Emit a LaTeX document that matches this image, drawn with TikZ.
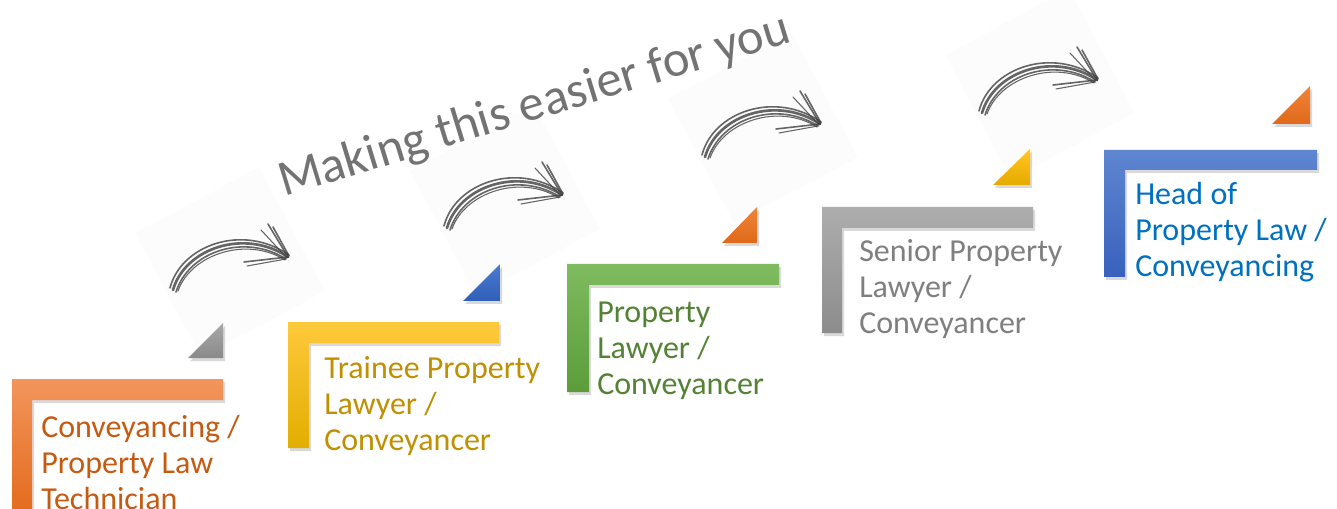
\documentclass[tikz,border=0pt]{standalone}
\usepackage{fontspec}
\setmainfont{Carlito}
\begin{document}
\begin{tikzpicture}[x=0.75pt,y=-0.75pt]
\definecolor{oA}{HTML}{F2955C}\definecolor{oB}{HTML}{E36A1C}
\definecolor{yA}{HTML}{FFC93C}\definecolor{yB}{HTML}{E2AE00}
\definecolor{gA}{HTML}{7EBC5F}\definecolor{gB}{HTML}{5C9C3A}
\definecolor{rA}{HTML}{ADADAD}\definecolor{rB}{HTML}{8C8C8C}
\definecolor{bA}{HTML}{5F86D0}\definecolor{bB}{HTML}{3861BD}
\definecolor{tO}{HTML}{C55A11}\definecolor{tY}{HTML}{BF9000}
\definecolor{tG}{HTML}{548235}\definecolor{tR}{HTML}{7F7F7F}
\definecolor{tB}{HTML}{0070C0}
\definecolor{triO}{HTML}{F0843A}\definecolor{triOd}{HTML}{E0691A}
\definecolor{triY}{HTML}{FFC820}\definecolor{triYd}{HTML}{E6AA00}
\definecolor{triB}{HTML}{4A7BD0}\definecolor{triBd}{HTML}{2F5FB6}
\definecolor{triR}{HTML}{A8A8A8}\definecolor{triRd}{HTML}{8A8A8A}
\tikzset{
  barshadow/.style={fill=black, opacity=0.15},
  lbl/.style={anchor=base west, inner sep=0, align=left, font=\fontsize{24}{27}\selectfont},
  sk/.style={draw=black!75, line width=1.2pt, line cap=round, opacity=0.8},
  skbg/.style={fill=black!1.2, draw=none, minimum size=105pt, rotate=28, inner sep=0},
}
\newcommand\stepbar[8]{%
  \fill[barshadow] (#1+2,#3+3) -- (#2+2,#3+3) -- (#2+2,#4+3) -- (#5+2,#4+3) -- (#5+2,#6+3) -- (#1+2,#6+3) -- cycle;
  \shade[top color=#7, bottom color=#8] (#1,#3) -- (#2,#3) -- (#2,#4) -- (#5,#4) -- (#5,#6) -- (#1,#6) -- cycle;}
\newcommand\steptri[6]{%
  \fill[barshadow] (#1+2,#2+3) -- (#1+2,#3+3) -- (#4+2,#3+3) -- cycle;
  \shade[top color=#5, bottom color=#6] (#1,#2) -- (#1,#3) -- (#4,#3) -- cycle;}
\newcommand\sketcharrow[1]{%
  \begin{scope}[shift={(#1)}]
    \draw[sk, line width=2pt] (0,0) .. controls (12,-42) and (72,-62) .. (115,-33);
    \draw[sk] (3,2) .. controls (16,-39) and (72,-57) .. (113,-31);
    \draw[sk] (-3,-2) .. controls (8,-45) and (70,-67) .. (116,-35);
    \draw[sk, line width=0.8pt] (5,1) .. controls (18,-36) and (74,-54) .. (112,-30);
    \draw[sk] (115,-33) -- (95,-66);
    \draw[sk] (116,-34) -- (100,-63);
    \draw[sk, line width=0.8pt] (114,-32) -- (88,-60);
    \draw[sk] (115,-33) -- (71,-28);
    \draw[sk, line width=0.8pt] (113,-31) -- (74,-24);
  \end{scope}}
\useasboundingbox (0,0) rectangle (1337,509);
\fill[white] (0,0) rectangle (1337,509);
% faint squares behind arrows
\node[skbg] (bg1) at (230,262) {};
\node[skbg] (bg2) at (505,200) {};
\node[skbg] (bg3) at (763,128) {};
\node[skbg] (bg4) at (1040,84) {};
% title
\node[anchor=base west, inner sep=0, rotate=17, text=black!55,
      font=\fontsize{38}{42}\selectfont] (title) at (284,197) {Making this easier for you};
% arrows
\coordinate (a1) at (173,290);
\coordinate (a2) at (447,228);
\coordinate (a3) at (705,157);
\coordinate (a4) at (982,113);
\sketcharrow{a1}
\sketcharrow{a2}
\sketcharrow{a3}
\sketcharrow{a4}
% steps (label anchor = baseline of the last of three lines)
\stepbar{12}{223}{379}{400}{32}{515}{oA}{oB}
\steptri{223}{323}{358}{188}{triR}{triRd}
\node[lbl, text=tO] (s1) at (41,509) {Conveyancing /\\Property Law\\Technician};
\stepbar{288}{499}{322}{343}{309}{448}{yA}{yB}
\steptri{500}{264}{301}{463}{triB}{triBd}
\node[lbl, text=tY] (s2) at (324,450) {Trainee Property\\Lawyer /\\Conveyancer};
\stepbar{567}{779}{264}{285}{589}{392}{gA}{gB}
\steptri{757}{207}{243}{722}{triO}{triOd}
\node[lbl, text=tG] (s3) at (597,394) {Property\\Lawyer /\\Conveyancer};
\stepbar{822}{1033}{207}{228}{842}{333}{rA}{rB}
\steptri{1030}{149}{185}{993}{triY}{triYd}
\node[lbl, text=tR] (s4) at (859,334) {Senior Property\\Lawyer /\\Conveyancer};
\stepbar{1104}{1317}{150}{170}{1125}{277}{bA}{bB}
\steptri{1310}{86}{124}{1272}{triO}{triOd}
\node[lbl, text=tB] (s5) at (1135,277) {Head of\\Property Law /\\Conveyancing};
\end{tikzpicture}
\end{document}
